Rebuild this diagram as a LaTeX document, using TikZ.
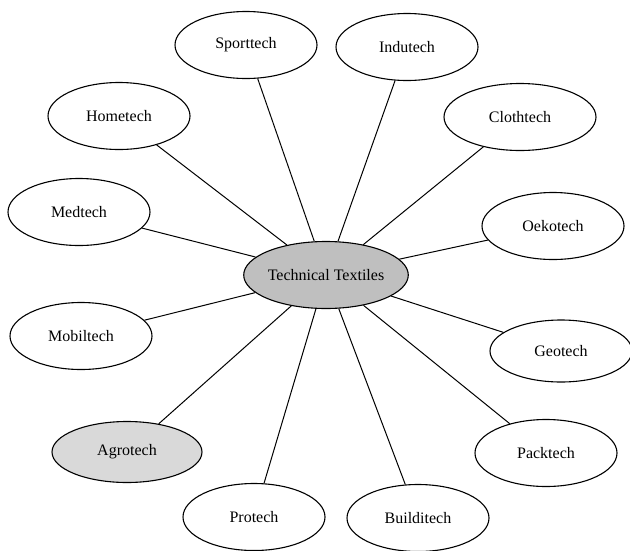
\documentclass[tikz,border=0pt]{standalone}
\usepackage{fontspec}
\setmainfont{Liberation Serif}
\usetikzlibrary{shapes.geometric}
\begin{document}
\begin{tikzpicture}[x=1pt,y=-1pt,
  field/.style={draw,ellipse,line width=1.1pt,minimum width=142pt,minimum height=67pt,inner sep=0pt,font=\fontsize{16}{18}\selectfont},
  hub/.style={field,fill=gray!50}]
\useasboundingbox (0,0) rectangle (630,550);
\node [hub] (tt) at (326,275) {Technical Textiles};
\node [field] (sport) at (246,45) {Sporttech};
\node [field] (indu) at (407,47) {Indutech};
\node [field] (home) at (119,116) {Hometech};
\node [field,minimum width=152pt] (cloth) at (520,117) {Clothtech};
\node [field] (med) at (79,212) {Medtech};
\node [field] (oeko) at (553,226) {Oekotech};
\node [field] (mobil) at (81,336) {Mobiltech};
\node [field,minimum height=62pt] (geo) at (561,351) {Geotech};
\node [field,fill=gray!30,minimum width=150pt,minimum height=61pt] (agro) at (127,452) {Agrotech};
\node [field] (pack) at (546,453) {Packtech};
\node [field] (pro) at (254,517) {Protech};
\node [field] (build) at (418,518) {Builditech};
\foreach \n in {sport,indu,home,cloth,med,oeko,mobil,geo,agro,pack,pro,build}
  \draw [line width=1pt] (tt) -- (\n);
\end{tikzpicture}
\end{document}
